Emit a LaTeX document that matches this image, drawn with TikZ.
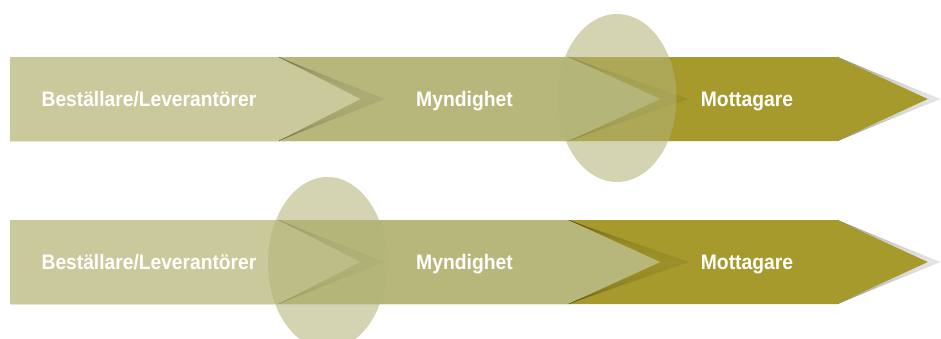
\documentclass[tikz,border=0pt]{standalone}
\usepackage{fontspec}
\setmainfont{Liberation Sans}
\definecolor{segA}{HTML}{C9C99B}
\definecolor{segB}{HTML}{B7B77C}
\definecolor{segC}{HTML}{A69A2C}
\definecolor{ovalc}{HTML}{B3B478}
\tikzset{
  shadowline/.style={draw=black, draw opacity=0.07, line width=0.5pt, line join=miter},
  oval/.style={fill=ovalc, fill opacity=0.57},
  lbl/.style={text=white, font=\fontsize{21}{24}\selectfont\bfseries, anchor=base, inner sep=0pt}
}
\newcommand{\chevrow}[1]{%
  % segment 3 (dark)
  \foreach \d in {1,2,...,12} \draw[shadowline] (837,57) -- (928+\d,99) -- (837,141);
  \fill[segC] (10,57) -- (837,57) -- (928,99) -- (837,141) -- (10,141) -- cycle;
  % segment 2 (mid)
  \foreach \d in {2,4,...,28} \draw[shadowline] (568,57) -- (660+\d,99) -- (568,141);
  \fill[segB] (10,57) -- (568,57) -- (660,99) -- (568,141) -- (10,141) -- cycle;
  % segment 1 (light)
  \foreach \d in {2,4,...,24} \draw[shadowline] (278,57) -- (360+\d,99) -- (278,141);
  \fill[segA] (10,57) -- (278,57) -- (360,99) -- (278,141) -- (10,141) -- cycle;
}
\begin{document}
\begin{tikzpicture}[x=1pt,y=-1pt]
\useasboundingbox (0,0) rectangle (941,338);
\chevrow{1}
\fill[oval] (617,98) ellipse [x radius=59.5, y radius=84];
\node[lbl] (b1) at (149,106.5) {\scalebox{0.915}[1]{Beställare/Leverantörer}};
\node[lbl] (m1) at (464.5,106.5) {\scalebox{0.92}[1]{Myndighet}};
\node[lbl] (t1) at (747,106.5) {\scalebox{0.92}[1]{Mottagare}};
\begin{scope}[yshift=-163pt]
\chevrow{2}
\end{scope}
\fill[oval] (327.5,263) ellipse [x radius=59.5, y radius=86];
\node[lbl] (b2) at (149,269.5) {\scalebox{0.915}[1]{Beställare/Leverantörer}};
\node[lbl] (m2) at (464.5,269.5) {\scalebox{0.92}[1]{Myndighet}};
\node[lbl] (t2) at (747,269.5) {\scalebox{0.92}[1]{Mottagare}};
\end{tikzpicture}
\end{document}
